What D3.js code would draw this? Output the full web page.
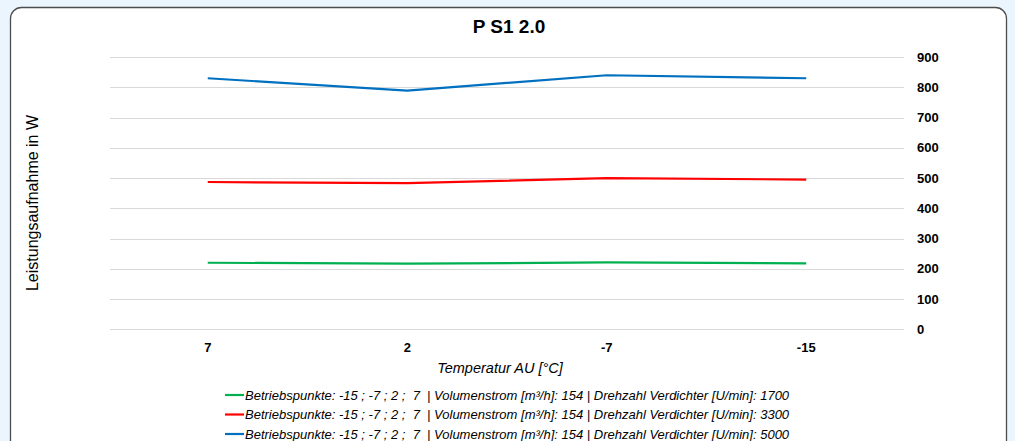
<!DOCTYPE html>
<html><head><meta charset="utf-8">
<script src="https://cdn.jsdelivr.net/npm/d3@7"></script>
<style>
html,body{margin:0;padding:0;background:#EAF5FD;}
svg{display:block;font-family:"Liberation Sans",Arial,sans-serif;}
</style></head>
<body>
<svg id="c" width="1015" height="441"></svg>
<script>
const categories = ["7", "2", "-7", "-15"];
const seriesGreen = [220, 217, 221, 218];
const seriesRed = [487, 483, 500, 495];
const seriesBlue = [830, 789, 840, 830];
const yTicks = [0, 100, 200, 300, 400, 500, 600, 700, 800, 900];
const legendLabels = [
  "Betriebspunkte: -15 ; -7 ; 2 ;  7  | Volumenstrom [m³/h]: 154 | Drehzahl Verdichter [U/min]: 1700",
  "Betriebspunkte: -15 ; -7 ; 2 ;  7  | Volumenstrom [m³/h]: 154 | Drehzahl Verdichter [U/min]: 3300",
  "Betriebspunkte: -15 ; -7 ; 2 ;  7  | Volumenstrom [m³/h]: 154 | Drehzahl Verdichter [U/min]: 5000"
];
const colors = ["#00B050", "#FF0000", "#0070C0"];
const series = [seriesGreen, seriesRed, seriesBlue];

const svg = d3.select("#c");
svg.append("rect").attr("x", 10.5).attr("y", 7.5).attr("width", 996).attr("height", 460)
  .attr("rx", 11).attr("fill", "#fff").attr("stroke", "#4d4d4d").attr("stroke-width", 1.3);

const x = d3.scaleBand().domain(categories).range([108, 906]);
const y = d3.scaleLinear().domain([0, 900]).range([329.3, 57.1]);

svg.append("g").selectAll("line").data(yTicks).join("line")
  .attr("x1", 110).attr("x2", 904)
  .attr("y1", d => Math.round(y(d)) + 0.5).attr("y2", d => Math.round(y(d)) + 0.5)
  .attr("stroke", "#d9d9d9").attr("stroke-width", 1);

svg.append("g").selectAll("text").data(yTicks).join("text")
  .attr("x", 917).attr("y", d => y(d) + 4.5)
  .attr("font-size", 13).attr("font-weight", "bold").attr("fill", "#000")
  .text(d => d);

svg.append("g").selectAll("text").data(categories).join("text")
  .attr("x", d => x(d) + x.bandwidth() / 2).attr("y", 352)
  .attr("text-anchor", "middle").attr("font-size", 13).attr("font-weight", "bold")
  .text(d => d);

const line = d3.line().x((d, i) => x(categories[i]) + x.bandwidth() / 2).y(d => y(d));
series.forEach((s, i) => {
  svg.append("path").datum(s).attr("d", line).attr("fill", "none")
    .attr("stroke", colors[i]).attr("stroke-width", 2.2).attr("stroke-linejoin", "round");
});

svg.append("text").attr("x", 509).attr("y", 33).attr("text-anchor", "middle")
  .attr("font-size", 19).attr("font-weight", "bold").text("P S1 2.0");

svg.append("text").attr("x", 500).attr("y", 373).attr("text-anchor", "middle")
  .attr("font-size", 14.5).attr("font-style", "italic").text("Temperatur AU [°C]");

svg.append("text").attr("transform", "translate(38,203) rotate(-90)")
  .attr("text-anchor", "middle").attr("font-size", 16).text("Leistungsaufnahme in W");

const lg = svg.append("g");
legendLabels.forEach((t, i) => {
  const yy = 395 + i * 19.5;
  lg.append("line").attr("x1", 225).attr("x2", 244).attr("y1", yy).attr("y2", yy)
    .attr("stroke", colors[i]).attr("stroke-width", 2.2);
  lg.append("text").attr("x", 245).attr("y", yy + 4.5).attr("font-size", 13)
    .attr("font-style", "italic").style("white-space", "pre").attr("xml:space", "preserve")
    .text(t);
});
</script>
</body></html>
